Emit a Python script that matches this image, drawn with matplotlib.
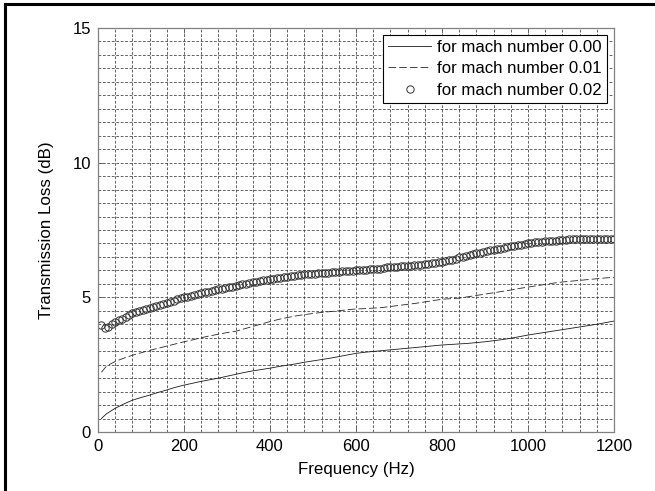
import numpy as np
import matplotlib
matplotlib.use("Agg")
import matplotlib.pyplot as plt
from matplotlib.lines import Line2D
from matplotlib.ticker import MultipleLocator

plt.rcParams['font.family'] = ['Liberation Sans', 'DejaVu Sans']
plt.rcParams['lines.scale_dashes'] = False

# ---- data ----
freq_circ = np.arange(8, 1201, 8)  # sampling grid of the mach 0.02 series
tl_m002 = [
    3.97, 3.86, 3.90, 4.00, 4.07, 4.14, 4.20, 4.28, 4.34, 4.40,
    4.44, 4.48, 4.52, 4.56, 4.60, 4.64, 4.67, 4.71, 4.75, 4.78,
    4.83, 4.87, 4.92, 4.96, 5.00, 5.03, 5.06, 5.09, 5.12, 5.15,
    5.18, 5.21, 5.24, 5.27, 5.30, 5.32, 5.35, 5.37, 5.40, 5.42,
    5.45, 5.48, 5.51, 5.53, 5.56, 5.58, 5.61, 5.63, 5.65, 5.67,
    5.69, 5.71, 5.73, 5.75, 5.77, 5.79, 5.80, 5.82, 5.83, 5.85,
    5.86, 5.87, 5.88, 5.89, 5.90, 5.91, 5.92, 5.93, 5.94, 5.95,
    5.96, 5.97, 5.98, 5.99, 6.00, 6.01, 6.02, 6.03, 6.04, 6.05,
    6.06, 6.07, 6.09, 6.11, 6.12, 6.13, 6.14, 6.15, 6.16, 6.17,
    6.18, 6.19, 6.20, 6.21, 6.22, 6.24, 6.26, 6.28, 6.30, 6.32,
    6.34, 6.37, 6.40, 6.44, 6.48, 6.51, 6.54, 6.57, 6.60, 6.63,
    6.66, 6.69, 6.72, 6.74, 6.77, 6.79, 6.81, 6.84, 6.86, 6.89,
    6.91, 6.93, 6.96, 6.98, 7.00, 7.02, 7.04, 7.06, 7.07, 7.08,
    7.09, 7.10, 7.11, 7.12, 7.13, 7.14, 7.15, 7.15, 7.16, 7.16,
    7.17, 7.17, 7.17, 7.18, 7.18, 7.18, 7.18, 7.18, 7.18, 7.18,
]

freq_line = [8] + list(range(20, 1201, 20))
tl_m000 = [
    0.50,
    0.68, 0.88, 1.04, 1.18, 1.28, 1.37, 1.47, 1.56, 1.66, 1.74,
    1.81, 1.88, 1.94, 2.00, 2.07, 2.14, 2.21, 2.27, 2.32, 2.37,
    2.43, 2.48, 2.53, 2.59, 2.64, 2.69, 2.74, 2.80, 2.86, 2.92,
    2.96, 2.99, 3.02, 3.05, 3.08, 3.11, 3.14, 3.17, 3.20, 3.23,
    3.25, 3.27, 3.29, 3.32, 3.35, 3.39, 3.43, 3.48, 3.54, 3.60,
    3.65, 3.70, 3.75, 3.80, 3.85, 3.90, 3.95, 4.00, 4.06, 4.12,
]
tl_m001 = [
    2.22,
    2.45, 2.62, 2.74, 2.85, 2.94, 3.03, 3.11, 3.19, 3.27, 3.35,
    3.42, 3.50, 3.57, 3.63, 3.69, 3.74, 3.83, 3.92, 4.01, 4.10,
    4.18, 4.25, 4.31, 4.36, 4.40, 4.44, 4.47, 4.50, 4.54, 4.57,
    4.58, 4.60, 4.62, 4.66, 4.70, 4.74, 4.78, 4.83, 4.88, 4.93,
    4.95, 4.97, 5.02, 5.07, 5.12, 5.17, 5.22, 5.27, 5.33, 5.38,
    5.43, 5.48, 5.53, 5.57, 5.60, 5.63, 5.66, 5.69, 5.72, 5.74,
]

labels = ["for mach number 0.00", "for mach number 0.01", "for mach number 0.02"]
xticks = [0, 200, 400, 600, 800, 1000, 1200]
yticks = [0, 5, 10, 15]

# ---- figure ----
fig = plt.figure(figsize=(6.55, 4.91), dpi=100)
ax = fig.add_axes([98/655, 1-432/491, (614-98)/655, (432-28)/491])

ax.plot(freq_line, tl_m000, color='0.1', lw=0.6, label=labels[0])
ax.plot(freq_line, tl_m001, color='0.15', lw=0.6, dashes=(5.5, 2.2), label=labels[1])
ax.plot(freq_circ, tl_m002, ls='none', marker='o', ms=5.3, mfc='none',
        mec='0.2', mew=0.7, label=labels[2])

ax.set_xlim(0, 1200)
ax.set_ylim(0, 15)
ax.set_xticks(xticks)
ax.set_yticks(yticks)
ax.xaxis.set_minor_locator(MultipleLocator(40))
ax.yaxis.set_minor_locator(MultipleLocator(0.5))

gstyle = dict(color='0.22', linestyle=(0, (2.0, 1.2)), linewidth=0.55)
ax.grid(True, which='major', **gstyle)
ax.grid(True, which='minor', **gstyle)
ax.set_axisbelow(True)

for sp in ax.spines.values():
    sp.set_color('0.5')
    sp.set_linewidth(0.9)
ax.tick_params(which='major', direction='in', length=3.6, width=0.7, color='0.4',
               top=True, right=True, labelsize=12, pad=5)
ax.tick_params(which='minor', length=0)

ax.set_xlabel("Frequency (Hz)", fontsize=12.2, labelpad=6)
ax.set_ylabel("Transmission Loss (dB)", fontsize=12.2, labelpad=13)

leg = ax.legend(loc='upper right', bbox_to_anchor=(0.986, 0.983), fontsize=12.1,
                frameon=True, fancybox=False, framealpha=1, edgecolor='black',
                handlelength=2.55, handletextpad=0.36, labelspacing=0.38,
                borderpad=0.3, borderaxespad=0, numpoints=1)
leg.get_frame().set_linewidth(0.8)

# figure border (left and top)
fig.add_artist(Line2D([5/655, 5/655], [0, 1-4/491], transform=fig.transFigure,
                      color='black', lw=2.2, solid_capstyle='projecting'))
fig.add_artist(Line2D([5/655, 1], [1-4/491, 1-4/491], transform=fig.transFigure,
                      color='black', lw=2.2, solid_capstyle='projecting'))

fig.savefig("out.png", dpi=100)
